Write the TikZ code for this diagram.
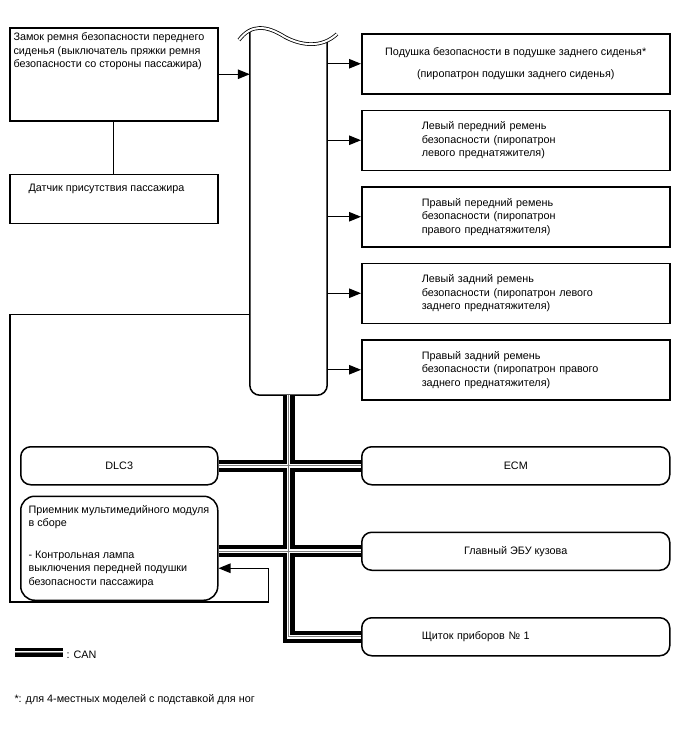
\documentclass[tikz,border=0pt]{standalone}
\usepackage{fontspec}
\setmainfont{Liberation Sans}
\usepackage{tikz}
\usetikzlibrary{positioning, arrows.meta}

\begin{document}
\begin{tikzpicture}[
        x=1pt, y=-1pt,
        node distance=15pt,
        every node/.style={
            font=\fontsize{10.8}{13.6}\selectfont
        },
        box/.style={
            rectangle,
            draw,
            line width=1.5pt,
            minimum width=308pt,
            minimum height=60pt,
            align=center
        },
        belt/.style={
            box,
            text width=188pt,
            inner xsep=60pt,
            align=left
        },
        unit/.style={
            rectangle,
            rounded corners=10pt,
            draw,
            line width=1.5pt,
            minimum width=308pt,
            minimum height=38pt,
            align=center
        },
        toptext/.style={
            anchor=north west,
            align=left
        },
        arrow/.style={
            -{Triangle[length=12pt,width=9.5pt]},
            line width=1.1pt
        },
        can/.style={
            line width=#1,
            postaction={draw=white, line width=0.33*#1},
            postaction={draw=gray, line width=0.8pt}
        },
        can/.default=12pt
    ]

    \useasboundingbox (0,0) rectangle (688,755);

    % Блок управления подушками

    \node[minimum width=77pt, minimum height=358pt] (ecu) at (288.5,216) {};

    \draw[line width=1.5pt, rounded corners=10pt]
        ([yshift=5pt]ecu.north west) -- (ecu.south west) --
        (ecu.south east) -- ([yshift=-4pt]ecu.north east);

    \draw[line width=0.8pt, double, double distance=2pt]
        (239,40) .. controls (251,24) and (266,25) .. (285,37)
        .. controls (302,46) and (322,48) .. (337,34);

    % Датчики слева

    \node[box, minimum width=208pt, minimum height=93pt, anchor=north west,
        label={[toptext, xshift=1pt, yshift=-2pt]north west:{Замок ремня безопасности переднего\\
        сиденья (выключатель пряжки ремня\\
        безопасности со стороны пассажира)}}]
        (buckle) at (9,27) {};

    \node[box, minimum width=208pt, minimum height=49pt, below=52pt of buckle,
        label={[toptext, xshift=16pt, yshift=-7pt]north west:{Датчик присутствия пассажира}}]
        (sensor) {};

    % Пиропатроны справа

    \node[box, anchor=north west] (rearcushion) at (361,33)
    {Подушка безопасности в подушке заднего сиденья*\\[9pt]
    (пиропатрон подушки заднего сиденья)};

    \node[belt, below=of rearcushion] (frontleft)
    {Левый передний ремень\\
    безопасности (пиропатрон\\
    левого преднатяжителя)};

    \node[belt, below=of frontleft] (frontright)
    {Правый передний ремень\\
    безопасности (пиропатрон\\
    правого преднатяжителя)};

    \node[belt, below=of frontright] (rearleft)
    {Левый задний ремень\\
    безопасности (пиропатрон левого\\
    заднего преднатяжителя)};

    \node[belt, below=of rearleft] (rearright)
    {Правый задний ремень\\
    безопасности (пиропатрон правого\\
    заднего преднатяжителя)};

    % Блоки на шине CAN

    \node[unit, minimum width=197pt, anchor=north west] (dlc) at (20,446) {DLC3};

    \node[unit, minimum width=197pt, minimum height=104pt, rounded corners=14pt,
        below=10pt of dlc,
        label={[toptext, xshift=5pt, yshift=-6pt]north west:{Приемник мультимедийного модуля\\
        в сборе\\[18pt]
        - Контрольная лампа\\
        выключения передней подушки\\
        безопасности пассажира}}]
        (receiver) {};

    \node[unit, anchor=north west] (ecm) at (361,446) {ECM};

    \node[unit, below=46pt of ecm] (body) {Главный ЭБУ кузова};

    \node[unit, below=46pt of body, text width=188pt, inner xsep=60pt, align=left]
        (cluster) {Щиток приборов № 1};

    % Стрелки

    \draw[line width=1.1pt] (buckle.south) -- (sensor.north);

    \draw[arrow] (buckle.east) -- (buckle.east -| ecu.west);

    \draw[arrow] (ecu.east |- rearcushion.west) -- (rearcushion.west);
    \draw[arrow] (ecu.east |- frontleft.west) -- (frontleft.west);
    \draw[arrow] (ecu.east |- frontright.west) -- (frontright.west);
    \draw[arrow] (ecu.east |- rearleft.west) -- (rearleft.west);
    \draw[arrow] (ecu.east |- rearright.west) -- (rearright.west);

    \draw[arrow] ([yshift=81pt]ecu.south west) -| (10,602)
        -| ([xshift=50pt, yshift=-20pt]receiver.east) -- ([yshift=-20pt]receiver.east);

    % Шина CAN

    \draw[can] (ecu.south) |- (cluster.west)
        (dlc.east) -- (ecm.west)
        (receiver.east |- body.west) -- (body.west);

    % Условные обозначения

    \coordinate (canstart) at (15,652);
    \node[anchor=west] (canlabel) at (63,655) {: CAN};
    \draw[can=9pt] (canstart) -- (canstart -| canlabel.west);

    \node[anchor=west] (footnote) at (11,700)
    {*: для 4-местных моделей с подставкой для ног};

\end{tikzpicture}
\end{document}
